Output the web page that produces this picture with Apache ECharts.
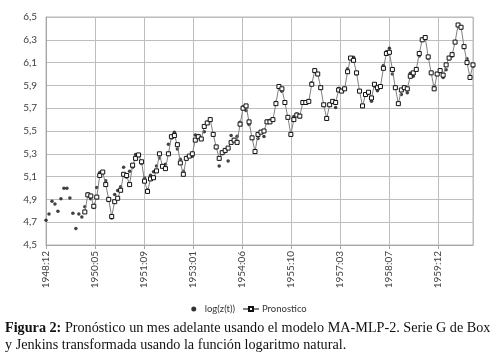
<!DOCTYPE html>
<html>
<head>
<meta charset="utf-8">
<script src="https://cdn.jsdelivr.net/npm/echarts@6/dist/echarts.min.js"></script>
<style>
html,body{margin:0;padding:0;background:#fff;}
#chart{width:498px;height:358px;}
</style>
</head>
<body>
<div id="chart"></div>
<script>
// Tick labels on the time axis (as printed in the reference)
var tickLabels = ['1948:12','1950:05','1951:09','1953:01','1954:06','1955:10','1957:03','1958:07','1959:12'];

// log of Series G (monthly airline passengers), 144 months
var observed = [
4.718,4.771,4.883,4.860,4.796,4.905,4.997,4.997,4.913,4.779,4.644,4.771,
4.745,4.836,4.949,4.905,4.828,5.004,5.136,5.136,5.063,4.890,4.736,4.942,
4.977,5.011,5.182,5.094,5.147,5.182,5.293,5.293,5.215,5.088,4.984,5.112,
5.142,5.193,5.263,5.198,5.209,5.384,5.438,5.489,5.342,5.252,5.147,5.268,
5.278,5.278,5.464,5.460,5.434,5.493,5.576,5.606,5.468,5.352,5.193,5.303,
5.318,5.236,5.460,5.425,5.455,5.576,5.710,5.680,5.557,5.434,5.313,5.434,
5.489,5.451,5.587,5.595,5.598,5.753,5.897,5.849,5.743,5.613,5.468,5.628,
5.649,5.624,5.759,5.746,5.762,5.924,6.023,6.004,5.872,5.724,5.602,5.724,
5.753,5.707,5.875,5.852,5.872,6.045,6.142,6.146,6.001,5.849,5.720,5.817,
5.829,5.762,5.892,5.852,5.894,6.075,6.196,6.225,6.001,5.883,5.737,5.820,
5.886,5.835,6.006,5.981,6.040,6.157,6.306,6.326,6.138,6.009,5.892,6.004,
6.033,5.969,6.038,6.133,6.157,6.282,6.433,6.407,6.230,6.133,5.966,6.068
];

// One-step-ahead forecast (starts at month index 13)
var forecastStart = 13;
var forecast = [
4.79,4.94,4.93,4.84,4.92,5.11,5.14,5.03,4.90,4.75,4.88,
4.91,4.98,5.12,5.11,5.03,5.20,5.26,5.29,5.23,5.06,4.97,5.08,
5.09,5.15,5.30,5.19,5.17,5.30,5.45,5.46,5.38,5.22,5.12,5.26,
5.28,5.30,5.42,5.45,5.43,5.54,5.57,5.60,5.47,5.36,5.26,5.31,
5.33,5.35,5.40,5.42,5.40,5.56,5.70,5.72,5.58,5.44,5.32,5.47,
5.49,5.50,5.58,5.58,5.60,5.74,5.89,5.87,5.75,5.62,5.47,5.60,
5.64,5.63,5.75,5.75,5.76,5.91,6.03,6.00,5.88,5.73,5.61,5.73,
5.76,5.75,5.86,5.85,5.87,6.02,6.14,6.12,6.01,5.85,5.72,5.82,
5.84,5.79,5.91,5.88,5.89,6.05,6.18,6.19,6.04,5.88,5.74,5.86,
5.88,5.87,5.98,6.01,6.04,6.18,6.30,6.32,6.15,6.01,5.87,6.00,
6.03,5.99,6.08,6.14,6.17,6.28,6.43,6.41,6.24,6.10,5.97,6.08
];

var captionBold = 'Figura 2:';
var captionLine1 = ' Pronóstico un mes adelante usando el modelo MA-MLP-2. Serie G de Box';
var captionLine2 = 'y Jenkins transformada usando la función logaritmo natural.';

var tickStep = 16.4;
var obsData = observed.map(function (v, i) { return [i, v]; });
var fcData = forecast.map(function (v, i) { return [i + forecastStart, v]; });

var chart = echarts.init(document.getElementById('chart'), null, {renderer: 'canvas'});
var fontFam = 'Lato, "Liberation Sans", sans-serif';
chart.setOption({
  animation: false,
  backgroundColor: '#fff',
  grid: {left: 46, right: 25, top: 17, bottom: 113, show: true, borderColor: '#b8b8b8', borderWidth: 1},
  xAxis: {
    type: 'value', min: 0, max: observed.length - 1, interval: tickStep,
    axisLine: {show: true, lineStyle: {color: '#a6a6a6'}},
    axisTick: {show: true, length: 4, lineStyle: {color: '#a6a6a6'}},
    splitLine: {show: true, lineStyle: {color: '#bdbdbd', width: 1}},
    axisLabel: {
      rotate: 90, fontSize: 10, color: '#404040', fontFamily: fontFam, margin: 6,
      showMaxLabel: false,
      formatter: function (v) {
        var k = Math.round(v / tickStep);
        if (Math.abs(v - k * tickStep) > 0.01) return '';
        return tickLabels[k] || '';
      }
    }
  },
  yAxis: {
    type: 'value', min: 4.5, max: 6.5, interval: 0.2,
    axisLine: {show: true, lineStyle: {color: '#a6a6a6'}},
    axisTick: {show: false},
    splitLine: {show: true, lineStyle: {color: '#bdbdbd', width: 1}},
    axisLabel: {
      fontSize: 10, color: '#404040', fontFamily: fontFam, margin: 9,
      formatter: function (v) { return v.toFixed(1).replace('.', ','); }
    }
  },
  legend: {
    top: 299, left: 'center', itemGap: 7, itemWidth: 16, itemHeight: 5,
    textStyle: {fontSize: 9.5, color: '#333', fontFamily: fontFam, padding: [0, 0, 0, -2]},
    data: [
      {name: 'log(z(t))', icon: 'circle', itemStyle: {color: '#000'}},
      {name: 'Pronostico'}
    ]
  },
  series: [
    {
      name: 'log(z(t))', type: 'scatter', data: obsData,
      symbol: 'circle', symbolSize: 3.5,
      itemStyle: {color: '#111'}, z: 2
    },
    {
      name: 'Pronostico', type: 'line', data: fcData,
      symbol: 'rect', symbolSize: 4, showSymbol: true,
      lineStyle: {color: '#808080', width: 1},
      itemStyle: {color: '#fff', borderColor: '#111', borderWidth: 1}, z: 3
    }
  ],
  graphic: [
    {
      type: 'text', left: 5, top: 321,
      style: {
        text: '{b|' + captionBold + '}{n|' + captionLine1 + '}',
        rich: {
          b: {fontFamily: '"Liberation Serif", serif', fontSize: 14.2, fontWeight: 'bold', fill: '#111'},
          n: {fontFamily: '"Liberation Serif", serif', fontSize: 14.2, fill: '#111'}
        }
      }
    },
    {
      type: 'text', left: 5, top: 338,
      style: {
        text: captionLine2,
        font: '14.2px "Liberation Serif", serif', fill: '#111'
      }
    }
  ]
});
</script>
</body>
</html>
